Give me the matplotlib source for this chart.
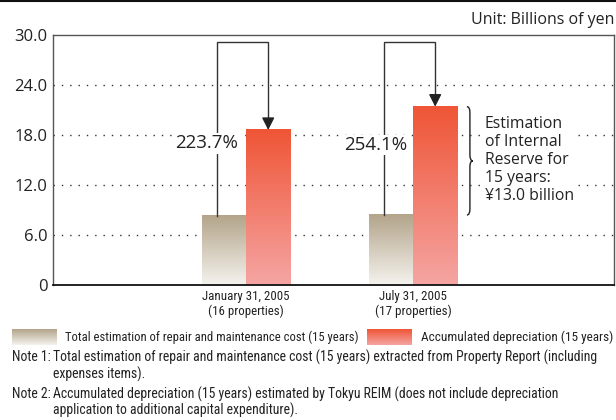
import matplotlib
matplotlib.use('Agg')
import matplotlib.pyplot as plt
import numpy as np
from matplotlib.path import Path
from matplotlib.patches import PathPatch
from matplotlib.colors import LinearSegmentedColormap
from matplotlib.lines import Line2D

categories = ["January 31, 2005\n(16 properties)", "July 31, 2005\n(17 properties)"]
repair_cost = [8.3, 8.4]
depreciation = [18.6, 21.4]
ratios = ["223.7%", "254.1%"]
yticks = [0, 6, 12, 18, 24, 30]
ytick_labels = ["0", "6.0", "12.0", "18.0", "24.0", "30.0"]
series_names = ["Total estimation of repair and maintenance cost (15 years)",
                "Accumulated depreciation (15 years)"]
reserve_text = "Estimation\nof Internal\nReserve for\n15 years:\n¥13.0 billion"
unit_text = "Unit: Billions of yen"
note_labels = ["Note 1:", "Note 2:"]
note_lines = [
    ["Total estimation of repair and maintenance cost (15 years) extracted from Property Report (including",
     "expenses items)."],
    ["Accumulated depreciation (15 years) estimated by Tokyu REIM (does not include depreciation",
     "application to additional capital expenditure)."],
]

MAIN = ['Open Sans', 'DejaVu Sans']
NARROW = ['Roboto Condensed', 'Open Sans Condensed', 'Liberation Sans Narrow',
          'DejaVu Sans Condensed', 'DejaVu Sans']
NSTRETCH = 'condensed'

W, H = 616, 420
fig = plt.figure(figsize=(W / 100, H / 100), dpi=100)
renderer = fig.canvas.get_renderer()


def fit_width(t, target_px):
    for _ in range(3):
        bb = t.get_window_extent(renderer)
        if bb.width > 0:
            t.set_fontsize(t.get_fontsize() * target_px / bb.width)


ax = fig.add_axes([53 / W, 135 / H, 561 / W, 250 / H])

tan_cmap = LinearSegmentedColormap.from_list('tan', ['#f5f3ee', '#b3a48a'])
red_cmap = LinearSegmentedColormap.from_list('red', ['#f5a5a3', '#ef5536'])
grad = np.linspace(0, 1, 256).reshape(-1, 1)

w = 0.266
xs = np.arange(len(categories))
for i, x in enumerate(xs):
    ax.imshow(grad, extent=[x - w, x, 0, repair_cost[i]], origin='lower',
              aspect='auto', cmap=tan_cmap, zorder=2)
    ax.imshow(grad, extent=[x, x + w, 0, depreciation[i]], origin='lower',
              aspect='auto', cmap=red_cmap, zorder=2)

ax.set_xlim(-1.156, 2.204)
ax.set_ylim(0, 30)

for yv in yticks[1:-1]:
    ax.axhline(yv, color='#333333', lw=1.0, ls=(0, (1, 5)), zorder=1)

ax.set_yticks(yticks)
ax.set_yticklabels(ytick_labels, family=MAIN, fontsize=12, color='#222222')
ax.set_xticks(xs)
ax.set_xticklabels([])
ax.tick_params(length=0, pad=4)

# category labels
for i, x in enumerate(xs):
    l1, l2 = categories[i].split("\n")
    t1 = ax.text(x, -1.4, l1, family=NARROW, fontstretch=NSTRETCH, fontsize=9,
                 color='#222222', ha='center', va='center')
    fit_width(t1, 87 if i == 0 else 68)
    t2 = ax.text(x, -3.1, l2, family=NARROW, fontstretch=NSTRETCH, fontsize=t1.get_fontsize(),
                 color='#222222', ha='center', va='center')

for s in ['left', 'top', 'right']:
    ax.spines[s].set_color('#555555')
    ax.spines[s].set_linewidth(1.0)
ax.spines['bottom'].set_color('#111111')
ax.spines['bottom'].set_linewidth(1.3)

# connectors with arrows
top_y = 29.2
for i, x in enumerate(xs):
    xl = x - w * 0.66
    xr = x + w / 2
    ax.plot([xl, xl, xr, xr], [repair_cost[i], top_y, top_y, depreciation[i] + 1.0],
            color='#333333', lw=1.0, zorder=3, solid_joinstyle='miter')
    ax.annotate('', xy=(xr, depreciation[i]), xytext=(xr, depreciation[i] + 1.2),
                arrowprops=dict(arrowstyle='-|>,head_length=0.75,head_width=0.38',
                                color='#222222', lw=1.0, shrinkA=0, shrinkB=0), zorder=4)
    ax.text(xl - 0.06 + 0.01 * i, 17.0 - 0.2 * i, ratios[i], family=MAIN, fontsize=13.5,
            color='#222222', ha='center', va='center', zorder=5,
            bbox=dict(facecolor='white', edgecolor='none', pad=1))

# brace for second group
bx = 1.323
y0, y1 = repair_cost[1], depreciation[1]
ym = (y0 + y1) / 2
d = 0.018
r = 0.7
verts = [(bx, y1), (bx + d, y1), (bx + d, y1 - r),
         (bx + d, ym + r), (bx + d, ym), (bx + 2 * d, ym),
         (bx + d, ym), (bx + d, ym - r),
         (bx + d, y0 + r), (bx + d, y0), (bx, y0)]
codes = [Path.MOVETO, Path.CURVE3, Path.CURVE3,
         Path.LINETO, Path.CURVE3, Path.CURVE3,
         Path.CURVE3, Path.CURVE3,
         Path.LINETO, Path.CURVE3, Path.CURVE3]
ax.add_patch(PathPatch(Path(verts, codes), fill=False, edgecolor='#222222', lw=1.0, zorder=4))
ax.text(1.43, ym + 0.1, reserve_text, family=MAIN, fontsize=11.3, color='#222222',
        ha='left', va='center', linespacing=1.15, zorder=5,
        bbox=dict(facecolor='white', edgecolor='none', pad=1))

# top rule and unit
fig.add_artist(Line2D([0, 1], [1 - 1 / H, 1 - 1 / H], color='#111111', lw=1.5))
tu = fig.text(614 / W, 1 - 20 / H, unit_text, family=MAIN, fontsize=11, color='#222222',
              ha='right', va='center')
fit_width(tu, 144)

# legend
tan_ax = fig.add_axes([12 / W, 1 - 345 / H, 45 / W, 16 / H])
red_ax = fig.add_axes([367 / W, 1 - 345 / H, 45 / W, 16 / H])
for lax, cm in [(tan_ax, tan_cmap), (red_ax, red_cmap)]:
    lax.imshow(grad, origin='lower', aspect='auto', cmap=cm)
    lax.axis('off')
tl1 = fig.text(65 / W, 1 - 337 / H, series_names[0], family=NARROW, fontstretch=NSTRETCH,
               fontsize=9.5, color='#222222', ha='left', va='center')
fit_width(tl1, 291)
tl2 = fig.text(421 / W, 1 - 337 / H, series_names[1], family=NARROW, fontstretch=NSTRETCH,
               fontsize=tl1.get_fontsize(), color='#222222', ha='left', va='center')
fit_width(tl2, 192)

# notes
note_y = [[357, 374], [394, 410]]
tn = fig.text(53 / W, 1 - note_y[0][0] / H, note_lines[0][0], family=NARROW,
              fontstretch=NSTRETCH, fontsize=9.5, color='#222222', ha='left', va='center')
fit_width(tn, 542)
nfs = tn.get_fontsize()
for k in range(2):
    fig.text(12 / W, 1 - note_y[k][0] / H, note_labels[k], family=NARROW, fontstretch=NSTRETCH,
             fontsize=nfs, color='#222222', ha='left', va='center')
    for j, line in enumerate(note_lines[k]):
        if k == 0 and j == 0:
            continue
        fig.text(53 / W, 1 - note_y[k][j] / H, line, family=NARROW, fontstretch=NSTRETCH,
                 fontsize=nfs, color='#222222', ha='left', va='center')

fig.savefig('out.png', dpi=100)
